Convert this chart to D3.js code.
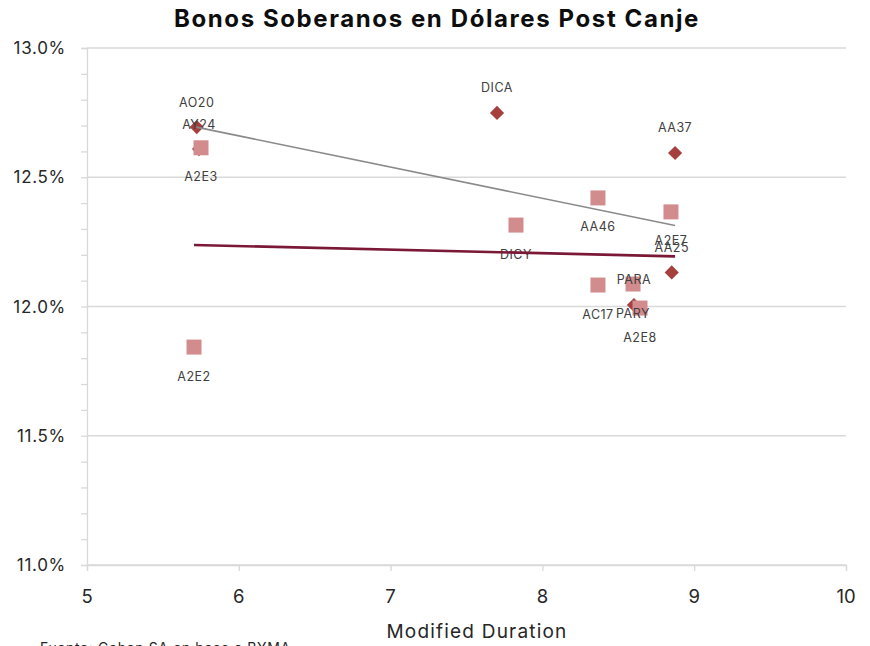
<!DOCTYPE html>
<html>
<head>
<meta charset="utf-8">
<script src="https://cdn.jsdelivr.net/npm/d3@7"></script>
<style>
  html, body { margin: 0; padding: 0; background: #fff; }
  svg { display: block; font-family: "Inter", "Noto Sans", sans-serif; }
</style>
</head>
<body>
<svg id="chart" width="870" height="646"></svg>
<script>
// ---- Data ----
const title = "Bonos Soberanos en Dólares Post Canje";
const xTitle = "Modified Duration";
const source = "Fuente: Cohen SA en base a BYMA";

// Diamonds
const diamondNames = ["AO20", "AY24", "DICA", "AA37", "AA25", "PARA"];
const diamondDur   = [5.723, 5.738, 7.701, 8.874, 8.852, 8.603];
const diamondYield = [12.694, 12.609, 12.749, 12.594, 12.132, 12.006];

// Squares
const squareNames = ["A2E2", "A2E3", "DICY", "AA46", "A2E7", "AC17", "PARY", "A2E8"];
const squareDur   = [5.705, 5.751, 7.826, 8.366, 8.847, 8.366, 8.597, 8.643];
const squareYield = [11.843, 12.614, 12.315, 12.420, 12.366, 12.083, 12.087, 11.994];

// Trend lines (endpoints)
const trendDiamondX = [5.72, 8.874];
const trendDiamondY = [12.694, 12.313];
const trendSquareX  = [5.705, 8.874];
const trendSquareY  = [12.238, 12.194];

// Axes
const xTicks = [5, 6, 7, 8, 9, 10];
const yTicks = [11.0, 11.5, 12.0, 12.5, 13.0];
const yMinorTicks = d3.range(110, 131, 1).map(v => v / 10);

// ---- Layout ----
const svg = d3.select("#chart");
const plotL = 87, plotR = 846, plotT = 48, plotB = 565;
const x = d3.scaleLinear().domain([5, 10]).range([plotL, plotR]);
const y = d3.scaleLinear().domain([11, 13]).range([plotB, plotT]);

const gridColor = "#d9d9d9";
const textColor = "#262626";

// Horizontal gridlines
svg.append("g").selectAll("line").data(yTicks).join("line")
  .attr("x1", plotL).attr("x2", plotR)
  .attr("y1", d => y(d)).attr("y2", d => y(d))
  .attr("stroke", gridColor).attr("stroke-width", 1.3);

// Y axis
const yAxis = d3.axisLeft(y).tickValues(yMinorTicks).tickSize(6).tickFormat("");
const gy = svg.append("g").attr("transform", `translate(${plotL},0)`).call(yAxis);
gy.select(".domain").attr("stroke", gridColor).attr("stroke-width", 1.3);
gy.selectAll(".tick line").attr("stroke", gridColor).attr("stroke-width", 1.3);

svg.append("g").selectAll("text").data(yTicks).join("text")
  .attr("x", 66).attr("y", d => y(d))
  .attr("text-anchor", "end").attr("dominant-baseline", "central")
  .attr("font-size", 17).attr("letter-spacing", 0.7).attr("fill", textColor)
  .text(d => d.toFixed(1) + "%");

// X axis
const xAxis = d3.axisBottom(x).tickValues(xTicks).tickSize(6).tickFormat("");
const gx = svg.append("g").attr("transform", `translate(0,${plotB})`).call(xAxis);
gx.select(".domain").attr("stroke", gridColor).attr("stroke-width", 1.3);
gx.selectAll(".tick line").attr("stroke", gridColor).attr("stroke-width", 1.3);

svg.append("g").selectAll("text").data(xTicks).join("text")
  .attr("x", d => x(d)).attr("y", 596)
  .attr("text-anchor", "middle").attr("dominant-baseline", "central")
  .attr("font-size", 18.5).attr("fill", textColor)
  .text(d => d);

// Titles
svg.append("text").attr("x", 437).attr("y", 27)
  .attr("text-anchor", "middle").attr("font-size", 24).attr("font-weight", 700)
  .attr("letter-spacing", 1.6)
  .attr("fill", "#0d0d0d").text(title);

svg.append("text").attr("x", 477).attr("y", 638)
  .attr("text-anchor", "middle").attr("font-size", 19).attr("letter-spacing", 1.2)
  .attr("fill", textColor).text(xTitle);

svg.append("text").attr("x", 40).attr("y", 653)
  .attr("font-size", 14).attr("letter-spacing", 0.6).attr("fill", textColor).text(source);

// Markers
const diamonds = diamondNames.map((n, i) => ({ n, x: diamondDur[i], y: diamondYield[i] }));
const squares  = squareNames.map((n, i) => ({ n, x: squareDur[i], y: squareYield[i] }));

const diamondSym = d3.symbol().type(d3.symbolSquare).size(100);
svg.append("g").selectAll("path").data(diamonds).join("path")
  .attr("d", diamondSym)
  .attr("transform", d => `translate(${x(d.x)},${y(d.y)}) rotate(45)`)
  .attr("fill", "#a5403f");

svg.append("g").selectAll("rect").data(squares).join("rect")
  .attr("x", d => x(d.x) - 7.5).attr("y", d => y(d.y) - 7.5)
  .attr("width", 15).attr("height", 15)
  .attr("fill", "#d38c8d");

// Labels
const labelColor = "#404040";
svg.append("g").selectAll("text").data(diamonds).join("text")
  .attr("x", d => x(d.x)).attr("y", d => y(d.y) - 25)
  .attr("text-anchor", "middle").attr("dominant-baseline", "central")
  .attr("font-size", 12.5).attr("letter-spacing", 0.5).attr("fill", labelColor)
  .text(d => d.n);

svg.append("g").selectAll("text").data(squares).join("text")
  .attr("x", d => x(d.x)).attr("y", d => y(d.y) + 29)
  .attr("text-anchor", "middle").attr("dominant-baseline", "central")
  .attr("font-size", 12.5).attr("letter-spacing", 0.5).attr("fill", labelColor)
  .text(d => d.n);

// Trend lines
const line = d3.line().x(d => x(d[0])).y(d => y(d[1]));
svg.append("path")
  .attr("d", line(trendDiamondX.map((v, i) => [v, trendDiamondY[i]])))
  .attr("fill", "none").attr("stroke", "#8a8a8a").attr("stroke-width", 1.6);
svg.append("path")
  .attr("d", line(trendSquareX.map((v, i) => [v, trendSquareY[i]])))
  .attr("fill", "none").attr("stroke", "#7a1836").attr("stroke-width", 2.6);
</script>
</body>
</html>
